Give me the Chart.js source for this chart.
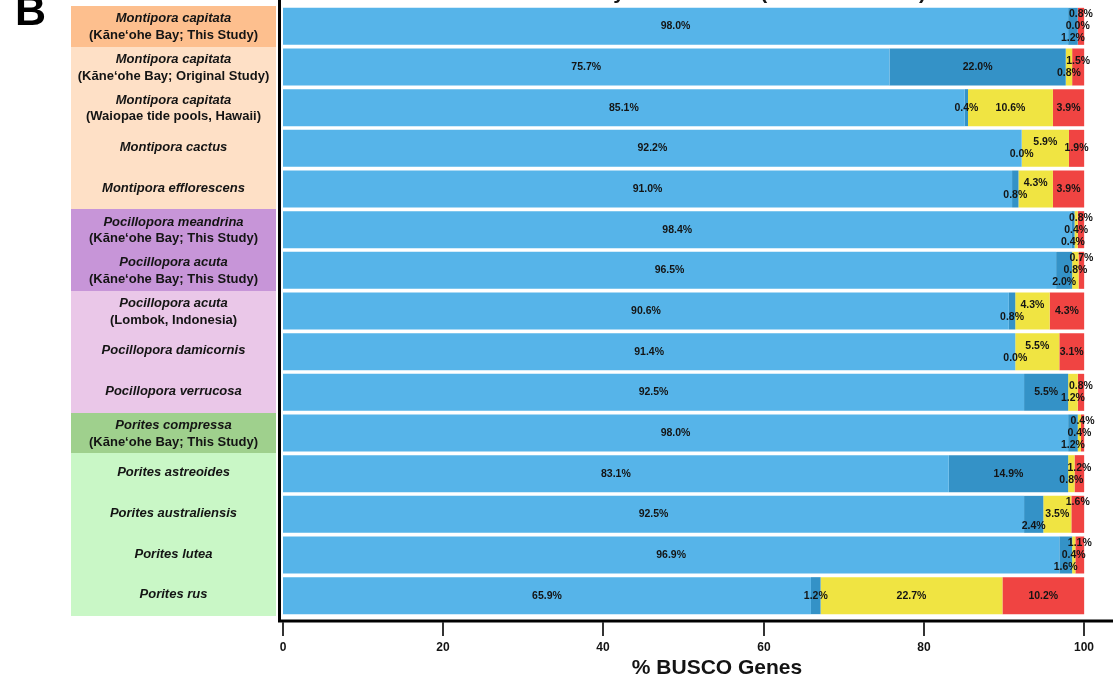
<!DOCTYPE html>
<html>
<head>
<meta charset="utf-8">
<script src="https://cdn.jsdelivr.net/npm/chart.js@4/dist/chart.umd.min.js"></script>
<style>
html,body{margin:0;padding:0;background:#fff;overflow:hidden}
canvas{display:block}
</style>
</head>
<body>
<canvas id="c" width="1113" height="680"></canvas>
<script>
// ---- data ----
const speciesNames = [
  "Montipora capitata","Montipora capitata","Montipora capitata","Montipora cactus","Montipora efflorescens",
  "Pocillopora meandrina","Pocillopora acuta","Pocillopora acuta","Pocillopora damicornis","Pocillopora verrucosa",
  "Porites compressa","Porites astreoides","Porites australiensis","Porites lutea","Porites rus"
];
const sources = [
  "(Kāne‘ohe Bay; This Study)","(Kāne‘ohe Bay; Original Study)","(Waiopae tide pools, Hawaii)","","",
  "(Kāne‘ohe Bay; This Study)","(Kāne‘ohe Bay; This Study)","(Lombok, Indonesia)","","",
  "(Kāne‘ohe Bay; This Study)","","","",""
];
const genus = ["Montipora","Montipora","Montipora","Montipora","Montipora",
  "Pocillopora","Pocillopora","Pocillopora","Pocillopora","Pocillopora",
  "Porites","Porites","Porites","Porites","Porites"];
const thisStudy = [true,false,false,false,false,true,true,false,false,false,true,false,false,false,false];

const singleCopy = [98.0,75.7,85.1,92.2,91.0,98.4,96.5,90.6,91.4,92.5,98.0,83.1,92.5,96.9,65.9];
const duplicated = [1.2,22.0,0.4,0.0,0.8,0.4,2.0,0.8,0.0,5.5,1.2,14.9,2.4,1.6,1.2];
const fragmented = [0.0,0.8,10.6,5.9,4.3,0.4,0.8,4.3,5.5,1.2,0.4,0.8,3.5,0.4,22.7];
const missing    = [0.8,1.5,3.9,1.9,3.9,0.8,0.7,4.3,3.1,0.8,0.4,1.2,1.6,1.1,10.2];

const seriesNames = ["Complete (C) and single-copy (S)","Complete (C) and duplicated (D)","Fragmented (F)","Missing (M)"];
const xTicks = [0,20,40,60,80,100];
const xTitle = "% BUSCO Genes";
const chartTitle = "Assembly Assessment (metazoa odb10)";
const panelLetter = "B";

// ---- styles ----
const seriesColors = ["#56B4E9","#3492C7","#F0E442","#F04442"];
const panelColors = {
  Montipora:   {study:"#FDBF8E", other:"#FEE0C6"},
  Pocillopora: {study:"#C795D8", other:"#EAC7E8"},
  Porites:     {study:"#9FD08D", other:"#C9F7C6"}
};
const FONT = '"Liberation Sans", Arial, Helvetica, sans-serif';
const INK = "#141414";

const seriesData = [singleCopy, duplicated, fragmented, missing];

const decorPlugin = {
  id: "decor",
  beforeDatasetsDraw(chart) {
    const ctx = chart.ctx;
    const y = chart.scales.y;
    const ca = chart.chartArea;
    const band = (ca.bottom - ca.top) / speciesNames.length;
    ctx.save();
    speciesNames.forEach((nm, i) => {
      const yc = y.getPixelForValue(i);
      const t = Math.round(yc - band / 2), b = Math.round(yc + band / 2);
      ctx.fillStyle = thisStudy[i] ? panelColors[genus[i]].study : panelColors[genus[i]].other;
      ctx.fillRect(71, t, 205, b - t);
    });
    ctx.fillStyle = INK;
    ctx.textAlign = "center";
    ctx.textBaseline = "middle";
    speciesNames.forEach((nm, i) => {
      const yc = y.getPixelForValue(i);
      if (sources[i]) {
        ctx.font = "italic bold 13px " + FONT;
        ctx.fillText(nm, 173.5, yc - 7.5);
        ctx.font = "bold 13px " + FONT;
        ctx.fillText(sources[i], 173.5, yc + 9);
      } else {
        ctx.font = "italic bold 13px " + FONT;
        ctx.fillText(nm, 173.5, yc - 1);
      }
    });
    ctx.restore();
  },
  afterDatasetsDraw(chart) {
    const ctx = chart.ctx;
    const x = chart.scales.x;
    const y = chart.scales.y;
    ctx.save();
    // segment labels with a simple vertical repulsion (later segments rise above earlier ones)
    ctx.font = "bold 10.5px " + FONT;
    ctx.textAlign = "center";
    ctx.textBaseline = "middle";
    ctx.fillStyle = INK;
    const H = 12;
    speciesNames.forEach((nm, i) => {
      const yc = y.getPixelForValue(i);
      let cum = 0;
      const labs = seriesData.map(arr => {
        const v = arr[i];
        const cx = x.getPixelForValue(cum + v / 2);
        cum += v;
        const txt = v.toFixed(1) + "%";
        return {txt, x: cx, y: yc, w: ctx.measureText(txt).width + 1};
      });
      for (let it = 0; it < 300; it++) {
        for (let a = 0; a < labs.length; a++) {
          for (let b = a + 1; b < labs.length; b++) {
            const A = labs[a], B = labs[b];
            const ox = (A.w + B.w) / 2 - Math.abs(B.x - A.x);
            const oy = H - (A.y - B.y);
            if (ox > 0 && oy > 0) {
              const s = oy * 0.25;
              A.y += s; B.y -= s;
            }
          }
        }
      }
      labs.forEach(L => ctx.fillText(L.txt, L.x, L.y));
    });

    // axis lines
    ctx.strokeStyle = "#000";
    ctx.lineWidth = 3;
    ctx.beginPath();
    ctx.moveTo(279.5, 0); ctx.lineTo(279.5, 622.5);
    ctx.moveTo(278, 621); ctx.lineTo(1113, 621);
    ctx.stroke();
    // ticks
    ctx.strokeStyle = "#333";
    ctx.lineWidth = 2;
    ctx.font = "bold 12px " + FONT;
    ctx.textBaseline = "alphabetic";
    ctx.fillStyle = INK;
    xTicks.forEach(v => {
      const px = Math.round(x.getPixelForValue(v));
      ctx.beginPath();
      ctx.moveTo(px, 622); ctx.lineTo(px, 636);
      ctx.stroke();
      ctx.fillText(String(v), px, 651);
    });
    // axis title
    ctx.font = "bold 21px " + FONT;
    ctx.fillText(xTitle, 717, 674);
    // chart title (mostly cut off above the top edge)
    ctx.textAlign = "right";
    ctx.fillText(chartTitle, 926, -1.5);
    // panel letter
    ctx.textAlign = "left";
    ctx.font = "bold 43px " + FONT;
    ctx.fillStyle = "#000";
    ctx.fillText(panelLetter, 15, 25);
    ctx.restore();
  }
};

new Chart(document.getElementById("c"), {
  type: "bar",
  data: {
    labels: speciesNames,
    datasets: seriesData.map((arr, k) => ({
      label: seriesNames[k],
      data: arr,
      backgroundColor: seriesColors[k],
      borderWidth: 0,
      barPercentage: 0.91,
      categoryPercentage: 1.0
    }))
  },
  options: {
    indexAxis: "y",
    responsive: false,
    devicePixelRatio: 1,
    animation: false,
    layout: {padding: {left: 279, right: 0, top: 6, bottom: 64}},
    scales: {
      x: {type: "linear", stacked: true, min: -0.5, max: 103.6, display: false},
      y: {stacked: true, display: false, offset: true}
    },
    plugins: {legend: {display: false}, tooltip: {enabled: false}}
  },
  plugins: [decorPlugin]
});
</script>
</body>
</html>
